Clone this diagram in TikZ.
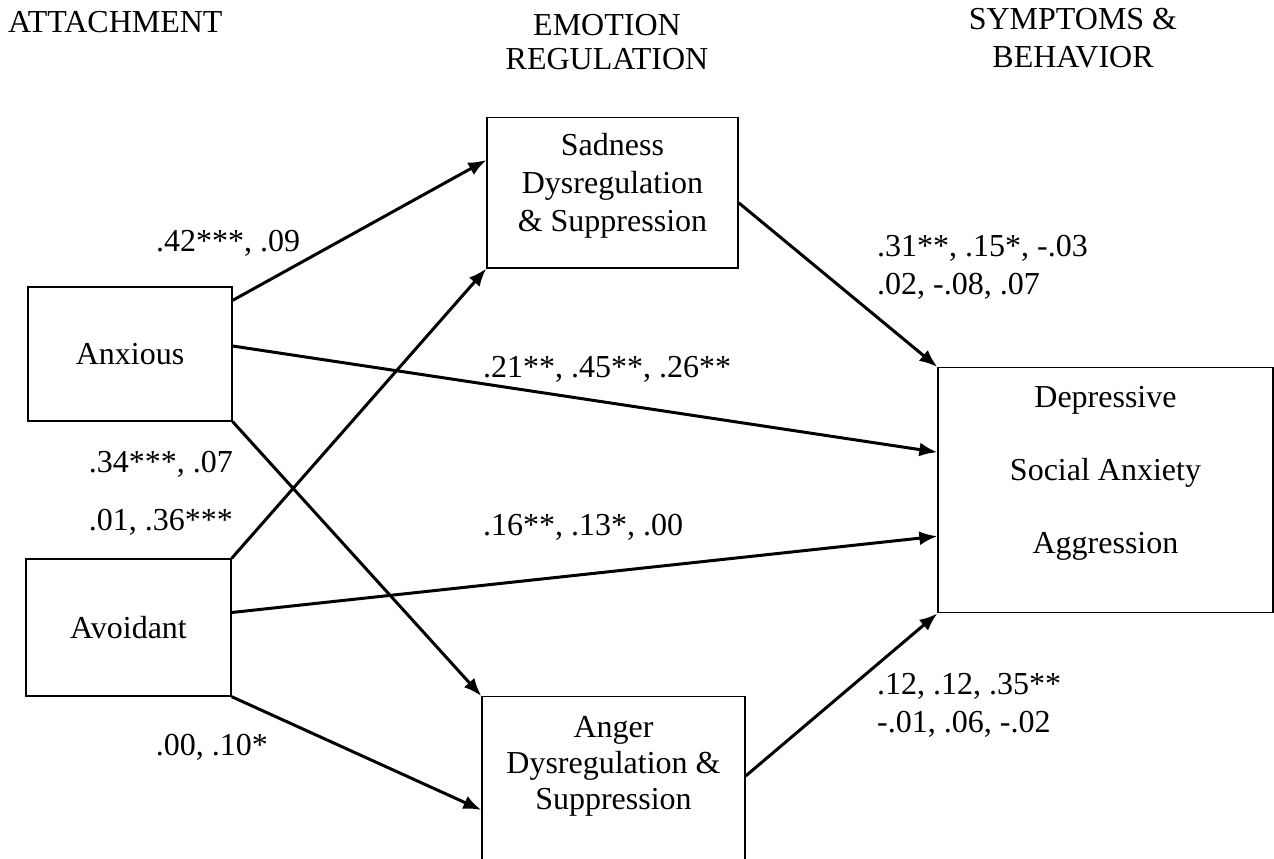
\documentclass[tikz,border=0pt]{standalone}
\usepackage{fontspec}
\setmainfont{Liberation Serif}
\usetikzlibrary{arrows.meta}

\tikzset{
	txt/.style={inner sep=0pt, font=\fontsize{32}{38}\selectfont},
	box/.style={draw, line width=1.3pt, inner xsep=0pt, align=center, font=\fontsize{32}{38}\selectfont},
	arr/.style={line width=3pt, -{Latex[length=18pt,width=14pt]}}
}

\begin{document}
\begin{tikzpicture}[x=1pt,y=-1pt]
		\useasboundingbox (0,0) rectangle (1274,859);
		\clip (0,0) rectangle (1274,859);
%		\draw[help lines] (0,0) grid[step=50] (1274,859);

		\node[txt,anchor=base west] (h_attach) at (8,33) {ATTACHMENT};
		\node[txt,anchor=north,align=center] (h_emo) at (607,14) {EMOTION\\[-4pt]REGULATION};
		\node[txt,anchor=north,align=center] (h_sym) at (1073,8) {SYMPTOMS \&\\BEHAVIOR};

		\node[box,minimum width=204pt,minimum height=134pt] (anx) at (130,354) {Anxious};
		\node[box,minimum width=205pt,minimum height=137pt] (avo) at (128.5,627.5) {Avoidant};
		\node[box,anchor=north,minimum width=251pt,inner ysep=16pt,text depth=20pt] (sad) at (612.5,117) {Sadness\\Dysregulation\\\& Suppression};
		\node[box,anchor=north,minimum width=263pt,inner ysep=20pt,text depth=300pt,font=\fontsize{32}{36}\selectfont] (ang) at (613.5,696) {Anger\\Dysregulation \&\\Suppression};
		\node[box,anchor=north,minimum width=335pt,inner ysep=19pt,text depth=40pt,font=\fontsize{32}{73}\selectfont] (out) at (1105.5,367) {Depressive\\Social Anxiety\\Aggression};

		\path (anx.north east) +(0,14) coordinate (anx_sad);
		\path (anx.east) +(0,-8) coordinate (anx_out);
		\path (avo.east) +(0,-15) coordinate (avo_out);
		\path (sad.north west) +(0,43) coordinate (sad_anx);
		\path (sad.east) +(0,10) coordinate (sad_out);
		\path (ang.north west) +(0,114) coordinate (ang_avo);
		\path (ang.north east) +(0,80) coordinate (ang_out);
		\path (out.west) +(0,-38) coordinate (out_anx);
		\path (out.west) +(0,46) coordinate (out_avo);

		\draw[arr] (anx_sad) -- (sad_anx);
		\draw[arr] (avo.north east) -- (sad.south west);
		\draw[arr] (anx_out) -- (out_anx);
		\draw[arr] (avo_out) -- (out_avo);
		\draw[arr] (anx.south east) -- (ang.north west);
		\draw[arr] (avo.south east) -- (ang_avo);
		\draw[arr] (sad_out) -- (out.north west);
		\draw[arr] (ang_out) -- (out.south west);

		\node[txt,anchor=base west] (lab_anx_sad) at (156,251) {.42***, .09};
		\node[txt,anchor=base east] (lab_anx_ang) at (233,472) {.34***, .07};
		\node[txt,anchor=base east] (lab_avo_sad) at (233,530) {.01, .36***};
		\node[txt,anchor=base east] (lab_avo_ang) at (268,755) {.00, .10*};
		\node[txt,anchor=base west] (lab_anx_out) at (483,377) {.21**, .45**, .26**};
		\node[txt,anchor=base west] (lab_avo_out) at (483,535) {.16**, .13*, .00};
		\node[txt,anchor=north west,align=left] (lab_sad_out) at (877,235) {.31**, .15*, -.03\\.02, -.08, .07};
		\node[txt,anchor=north west,align=left] (lab_ang_out) at (877,673) {.12, .12, .35**\\-.01, .06, -.02};
	\end{tikzpicture}
\end{document}
